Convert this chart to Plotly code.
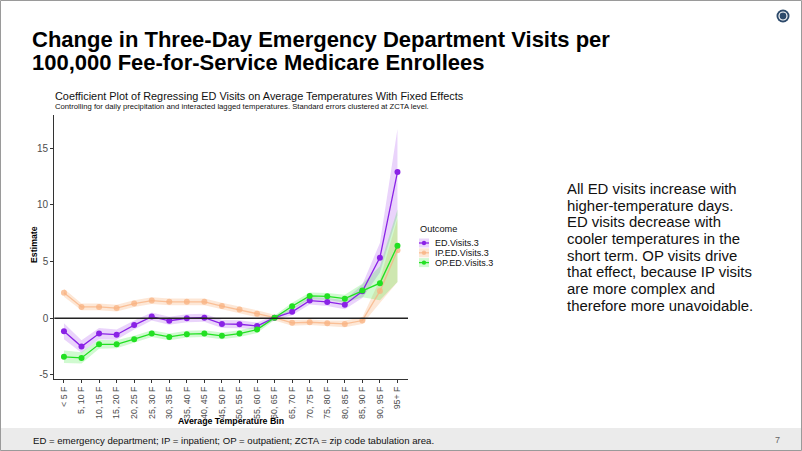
import plotly.graph_objects as go

# ---------------- data ----------------
bins = ["< 5 F", "5, 10 F", "10, 15 F", "15, 20 F", "20, 25 F", "25, 30 F", "30, 35 F",
        "35, 40 F", "40, 45 F", "45, 50 F", "50, 55 F", "55, 60 F", "60, 65 F", "65, 70 F",
        "70, 75 F", "75, 80 F", "80, 85 F", "85, 90 F", "90, 95 F", "95+ F"]

ed_est = [-1.15, -2.5, -1.35, -1.45, -0.6, 0.15, -0.22, 0.0, 0.05, -0.5,
          -0.53, -0.68, 0.05, 0.57, 1.56, 1.44, 1.2, 2.38, 5.35, 12.9]
ed_se = [0.7, 0.55, 0.5, 0.45, 0.4, 0.35, 0.35, 0.35, 0.35, 0.35,
         0.35, 0.3, 0.2, 0.3, 0.35, 0.35, 0.4, 0.6, 1.3, 3.8]

ip_est = [2.26, 1.0, 1.0, 0.9, 1.3, 1.56, 1.45, 1.45, 1.45, 1.08,
          0.77, 0.4, 0.05, -0.4, -0.35, -0.45, -0.5, -0.2, 2.4, 6.0]
ip_se = [0.35, 0.3, 0.3, 0.3, 0.3, 0.3, 0.3, 0.3, 0.3, 0.3,
         0.3, 0.3, 0.25, 0.25, 0.25, 0.25, 0.3, 0.3, 1.0, 2.8]

op_est = [-3.4, -3.5, -2.3, -2.3, -1.85, -1.35, -1.65, -1.4, -1.35, -1.55,
          -1.35, -1.0, 0.05, 1.06, 1.97, 1.94, 1.73, 2.45, 3.1, 6.4]
op_se = [0.55, 0.5, 0.4, 0.35, 0.3, 0.3, 0.3, 0.3, 0.3, 0.3,
         0.3, 0.3, 0.2, 0.3, 0.3, 0.3, 0.35, 0.6, 1.5, 3.2]

series_names = ["ED.Visits.3", "IP.ED.Visits.3", "OP.ED.Visits.3"]
y_ticks = [-5, 0, 5, 10, 15]

right_text = ["All ED visits increase with",
              "higher-temperature days.",
              "ED visits decrease with",
              "cooler temperatures in the",
              "short term. OP visits drive",
              "that effect, because IP visits",
              "are more complex and",
              "therefore more unavoidable."]

# ---------------- styling ----------------
W, H = 802, 451
def px(x):
    return x / W
def py(y):
    return 1 - y / H

FONT = "Liberation Sans, Arial, sans-serif"
line_colors = ["#8A22E6", "rgba(248,178,128,0.75)", "#22E022"]
band_colors = ["rgba(150,40,235,0.20)", "rgba(250,175,120,0.30)", "rgba(40,230,40,0.22)"]

fig = go.Figure()
xs = list(range(len(bins)))
data = [(ed_est, ed_se), (ip_est, ip_se), (op_est, op_se)]

# bands
for (est, se), bc, name in zip(data, band_colors, series_names):
    upper = [e + s for e, s in zip(est, se)]
    lower = [e - s for e, s in zip(est, se)]
    fig.add_trace(go.Scatter(x=xs + xs[::-1], y=upper + lower[::-1], fill="toself",
                             fillcolor=bc, line=dict(width=0), mode="lines",
                             hoverinfo="skip", showlegend=False, name=name + " CI"))

# lines (IP first, then ED, then OP)
for idx in [1, 0, 2]:
    est, se = data[idx]
    fig.add_trace(go.Scatter(x=xs, y=est, mode="lines+markers", name=series_names[idx],
                             line=dict(color=line_colors[idx], width=1.3),
                             marker=dict(color=line_colors[idx], size=6),
                             showlegend=False))

shapes = []
# zero line
shapes.append(dict(type="line", xref="x domain", yref="y", x0=0, x1=1, y0=0, y1=0,
                   line=dict(color="#222222", width=1.3)))
# footer band
shapes.append(dict(type="rect", xref="paper", yref="paper", x0=0, x1=1, y0=0, y1=py(428),
                   fillcolor="#ebebeb", line=dict(width=0), layer="below"))
# slide border
shapes.append(dict(type="rect", xref="paper", yref="paper", x0=px(0.5), x1=px(801.5),
                   y0=py(450.5), y1=py(0.5), line=dict(color="#9a9a9a", width=1)))
# logo
shapes.append(dict(type="circle", xref="paper", yref="paper", x0=px(776.5), x1=px(789.5),
                   y0=py(22.5), y1=py(9.5), fillcolor="#2d4a6b", line=dict(width=0)))
shapes.append(dict(type="circle", xref="paper", yref="paper", x0=px(779), x1=px(787),
                   y0=py(20), y1=py(12), fillcolor="rgba(0,0,0,0)",
                   line=dict(color="white", width=1.2)))

annotations = []
def txt(text, x, y, size, bold=False, color="#000000", xanchor="left", yanchor="middle", angle=0):
    if bold:
        text = "<b>" + text + "</b>"
    annotations.append(dict(text=text, x=px(x), y=py(y), xref="paper", yref="paper",
                            xanchor=xanchor, yanchor=yanchor, showarrow=False, textangle=angle,
                            font=dict(family=FONT, size=size, color=color)))

txt("Change in Three-Day Emergency Department Visits per", 30, 39.2, 22, bold=True)
txt("100,000 Fee-for-Service Medicare Enrollees", 30, 62.3, 22, bold=True)
txt("Coefficient Plot of Regressing ED Visits on Average Temperatures With Fixed Effects",
    53, 95.5, 10.9, color="#111111")
txt("Controlling for daily precipitation and interacted lagged temperatures. Standard errors clustered at ZCTA level.",
    53, 106.5, 7.7, color="#111111")
txt("Estimate", 34, 245, 8.8, bold=True, xanchor="center", angle=-90)
txt("Average Temperature Bin", 231, 420.5, 8.8, bold=True, xanchor="center")

for i, line in enumerate(right_text):
    txt(line, 565, 189 + i * 16.68, 14.9, color="#111111")

txt("ED = emergency department; IP = inpatient; OP = outpatient; ZCTA = zip code tabulation area.",
    31, 440, 9.6, color="#111111")
txt("7", 777, 440, 9, color="#666666", xanchor="center")

# manual legend
txt("Outcome", 418, 229, 9.2, color="#111111")
leg_y = [243, 252.8, 262.6]
for name, lc, bc, ly in zip(series_names, line_colors, band_colors, leg_y):
    shapes.append(dict(type="rect", xref="paper", yref="paper", x0=px(419), x1=px(429),
                       y0=py(ly + 4.5), y1=py(ly - 4.5), fillcolor=bc, line=dict(width=0)))
    shapes.append(dict(type="line", xref="paper", yref="paper", x0=px(419), x1=px(429),
                       y0=py(ly), y1=py(ly), line=dict(color=lc, width=1.3)))
    shapes.append(dict(type="circle", xref="paper", yref="paper", x0=px(421.8), x1=px(426.2),
                       y0=py(ly + 2.2), y1=py(ly - 2.2), fillcolor=lc, line=dict(width=0)))
    txt(name, 433, ly, 9, color="#111111")

fig.update_layout(
    width=W, height=H,
    margin=dict(l=0, r=0, t=0, b=0),
    paper_bgcolor="white", plot_bgcolor="white",
    showlegend=False,
    shapes=shapes, annotations=annotations,
    font=dict(family=FONT),
    xaxis=dict(domain=[px(54.3), px(408)], range=[-0.55, 19.6],
               tickmode="array", tickvals=xs, ticktext=bins, tickangle=-90,
               tickfont=dict(size=8.8, color="#4d4d4d", family=FONT),
               showline=True, linecolor="#333333", linewidth=1.2,
               ticks="outside", ticklen=3, tickcolor="#333333", tickwidth=1,
               showgrid=False, zeroline=False, automargin=False),
    yaxis=dict(domain=[py(379), py(115)], range=[-5.36, 17.94],
               tickmode="array", tickvals=y_ticks, ticktext=[str(v) for v in y_ticks],
               tickfont=dict(size=10, color="#4d4d4d", family=FONT),
               showline=True, linecolor="#333333", linewidth=1.2,
               ticks="outside", ticklen=3, tickcolor="#333333", tickwidth=1,
               showgrid=False, zeroline=False, automargin=False),
)

fig.write_html("out.html", config={"displayModeBar": False},
               post_script="document.body.style.margin='0';document.body.style.padding='0';"
                           "document.documentElement.style.overflow='hidden';")
